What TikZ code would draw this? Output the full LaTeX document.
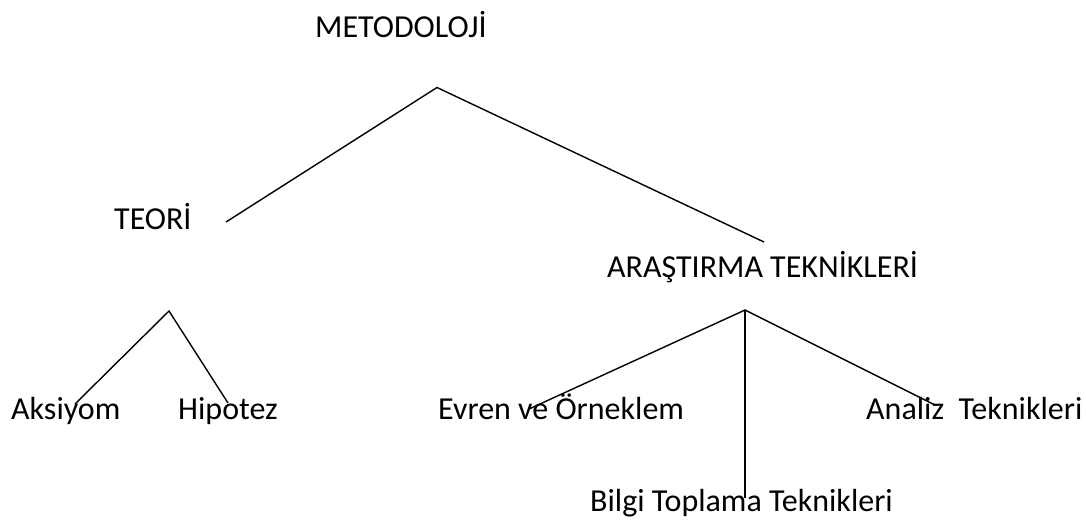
\documentclass[tikz,border=0pt]{standalone}
\usepackage{fontspec}
\setmainfont{Carlito}
\begin{document}
\begin{tikzpicture}[x=1pt,y=-1pt,
  lbl/.style={anchor=base west,inner sep=0pt,font=\fontsize{32}{38}\selectfont},
  branch/.style={line width=1.4pt,line cap=butt}]
\useasboundingbox (0,0) rectangle (1086,523);

% labels
\node[lbl] (met)  at (315,37.3)  {METODOLOJİ};
\node[lbl] (teo)  at (114,229)   {TEORİ};
\node[lbl] (ara)  at (607,277.3) {ARAŞTIRMA TEKNİKLERİ};
\node[lbl] (aks)  at (11,419.3)  {Aksiyom};
\node[lbl] (hip)  at (178,419.3) {Hipotez};
\node[lbl] (evr)  at (438,419.3) {Evren ve Örneklem};
\node[lbl] (ana)  at (866,419.3) {Analiz\ \ Teknikleri};
\node[lbl] (bil)  at (590,511)   {Bilgi Toplama Teknikleri};

% branch points and line ends
\coordinate (metJ) at (437,87.5);
\coordinate (teoE) at (226,222);
\coordinate (araE) at (764,242);
\coordinate (teoJ) at (169,311);
\coordinate (aksE) at (75,404);
\coordinate (hipE) at (228,403);
\coordinate (araJ) at (745,310);
\coordinate (evrE) at (529,409);
\coordinate (bilE) at (745,498);
\coordinate (anaE) at (935,405);

% tree lines
\draw[branch] (teoE) -- (metJ) -- (araE);
\draw[branch] (aksE) -- (teoJ) -- (hipE);
\draw[branch] (evrE) -- (araJ) -- (anaE);
\draw[branch] (araJ) -- (bilE);
\end{tikzpicture}
\end{document}
